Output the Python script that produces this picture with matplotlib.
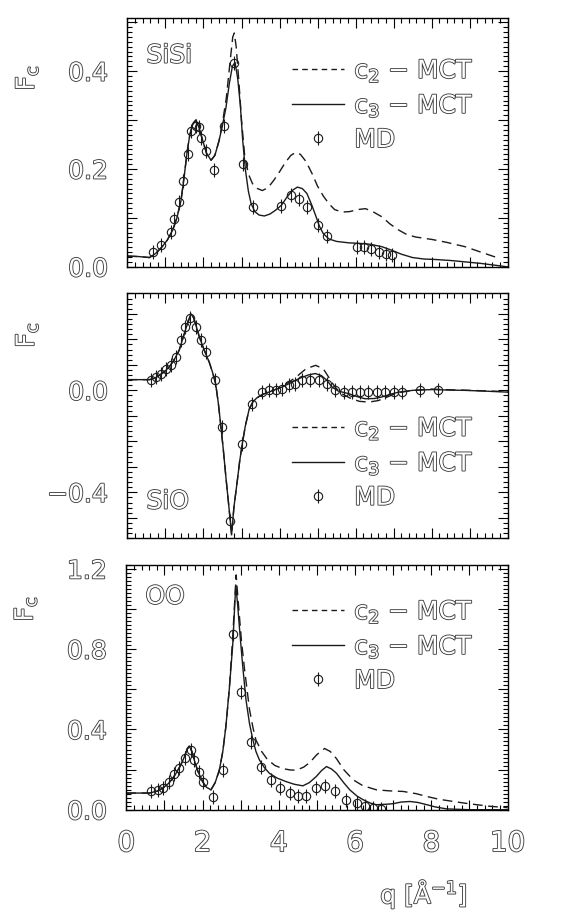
import matplotlib
matplotlib.use('Agg')
import matplotlib.pyplot as plt
import matplotlib.patheffects as pe
from matplotlib.ticker import MultipleLocator, FuncFormatter

plt.rcParams['font.family'] = ['DejaVu Sans']
plt.rcParams['mathtext.fontset'] = 'dejavusans'

# ---- SiSi ----
sisi_q3 = [0.0, 0.3, 0.58, 0.75, 0.9, 1.05, 1.19, 1.3, 1.41, 1.5, 1.57, 1.64, 1.72, 1.8, 1.88,
           1.98, 2.08, 2.2, 2.3, 2.41, 2.5, 2.59, 2.68, 2.76, 2.83, 2.9, 2.97, 3.03, 3.1, 3.18,
           3.25, 3.35, 3.46, 3.6, 3.75, 3.9, 4.05, 4.2, 4.35, 4.47, 4.6, 4.72, 4.85, 4.95, 5.05,
           5.15, 5.3, 5.5, 5.83, 6.1, 6.4, 6.7, 6.95, 7.2, 7.5, 7.8, 8.1, 8.5, 8.9, 9.3, 9.7, 10.0]
sisi_f3 = [0.022, 0.021, 0.019, 0.028, 0.040, 0.055, 0.075, 0.100, 0.136, 0.19, 0.235, 0.27, 0.293, 0.300, 0.285,
           0.258, 0.232, 0.218, 0.228, 0.258, 0.29, 0.325, 0.375, 0.41, 0.418, 0.385, 0.33, 0.26, 0.20, 0.155,
           0.130, 0.113, 0.106, 0.104, 0.108, 0.116, 0.126, 0.143, 0.157, 0.163, 0.160, 0.150, 0.126, 0.105, 0.083,
           0.068, 0.057, 0.052, 0.049, 0.048, 0.046, 0.041, 0.034, 0.026, 0.019, 0.016, 0.015, 0.013, 0.010, 0.007, 0.003, 0.0]
sisi_q2 = [0.0, 0.3, 0.58, 0.75, 0.9, 1.05, 1.19, 1.3, 1.41, 1.5, 1.57, 1.64, 1.72, 1.8, 1.88,
           1.98, 2.08, 2.2, 2.3, 2.41, 2.5, 2.6, 2.7, 2.77, 2.81, 2.86, 2.93, 3.0, 3.08, 3.18,
           3.29, 3.42, 3.55, 3.7, 3.85, 3.99, 4.15, 4.3, 4.43, 4.55, 4.7, 4.86, 5.0, 5.15, 5.3,
           5.45, 5.65, 5.85, 6.05, 6.26, 6.45, 6.7, 6.9, 7.14, 7.35, 7.58, 8.01, 8.4, 8.89, 9.3, 9.68]
sisi_f2 = [0.022, 0.021, 0.019, 0.028, 0.040, 0.055, 0.075, 0.100, 0.136, 0.19, 0.235, 0.27, 0.293, 0.300, 0.285,
           0.258, 0.232, 0.218, 0.228, 0.258, 0.295, 0.345, 0.42, 0.47, 0.478, 0.45, 0.38, 0.30, 0.23, 0.19,
           0.170, 0.160, 0.156, 0.162, 0.177, 0.193, 0.213, 0.228, 0.234, 0.230, 0.215, 0.19, 0.165, 0.145, 0.129,
           0.117, 0.112, 0.113, 0.117, 0.119, 0.113, 0.102, 0.088, 0.075, 0.066, 0.061, 0.056, 0.050, 0.041, 0.030, 0.020]
sisi_qmd = [0.66, 0.88, 1.15, 1.23, 1.36, 1.45, 1.58, 1.67, 1.8, 1.89, 1.93, 2.06, 2.28, 2.55, 2.81,
            3.03, 3.29, 4.03, 4.3, 4.51, 4.73, 5.0, 5.26, 6.05, 6.22, 6.4, 6.61, 6.79, 6.96]
sisi_fmd = [0.031, 0.044, 0.071, 0.098, 0.132, 0.176, 0.23, 0.278, 0.288, 0.285, 0.264, 0.237, 0.197, 0.288, 0.417,
            0.21, 0.122, 0.125, 0.146, 0.139, 0.122, 0.085, 0.064, 0.041, 0.041, 0.037, 0.031, 0.027, 0.024]

# ---- SiO ----
sio_q3 = [0.0, 0.3, 0.58, 0.72, 0.84, 0.97, 1.1, 1.23, 1.36, 1.47, 1.58, 1.67, 1.74, 1.8, 1.88,
          1.97, 2.06, 2.15, 2.24, 2.32, 2.39, 2.45, 2.52, 2.59, 2.67, 2.74, 2.8, 2.89, 2.95, 3.02,
          3.1, 3.2, 3.3, 3.4, 3.55, 3.7, 3.9, 4.07, 4.3, 4.51, 4.75, 4.94, 5.1, 5.25, 5.38,
          5.55, 5.82, 6.05, 6.25, 6.5, 6.69, 6.9, 7.13, 7.5, 8.0, 8.5, 8.87, 9.4, 10.0]
sio_f3 = [0.042, 0.042, 0.042, 0.048, 0.059, 0.073, 0.092, 0.12, 0.157, 0.21, 0.262, 0.300, 0.285, 0.256, 0.215,
          0.177, 0.143, 0.111, 0.07, 0.026, -0.05, -0.131, -0.23, -0.341, -0.459, -0.564, -0.459, -0.354, -0.28, -0.21,
          -0.14, -0.075, -0.045, -0.03, -0.016, -0.008, 0.004, 0.013, 0.030, 0.046, 0.060, 0.066, 0.058, 0.039, 0.013,
          -0.003, -0.013, -0.025, -0.033, -0.032, -0.026, -0.016, -0.007, 0.0, 0.003, 0.001, 0.0, -0.003, -0.007]
sio_q2 = [0.0, 0.3, 0.58, 0.72, 0.84, 0.97, 1.1, 1.23, 1.36, 1.47, 1.58, 1.67, 1.74, 1.8, 1.88,
          1.97, 2.06, 2.15, 2.24, 2.32, 2.39, 2.45, 2.52, 2.59, 2.67, 2.74, 2.8, 2.89, 2.95, 3.02,
          3.1, 3.2, 3.3, 3.4, 3.55, 3.7, 3.9, 4.07, 4.3, 4.5, 4.7, 4.95, 5.15, 5.3, 5.45,
          5.6, 5.85, 6.1, 6.35, 6.6, 6.85, 7.1, 7.5, 8.0, 8.5, 9.0, 10.0]
sio_f2 = [0.042, 0.042, 0.042, 0.048, 0.059, 0.073, 0.092, 0.12, 0.157, 0.21, 0.262, 0.300, 0.285, 0.256, 0.215,
          0.177, 0.143, 0.111, 0.07, 0.026, -0.05, -0.131, -0.23, -0.341, -0.459, -0.57, -0.459, -0.354, -0.28, -0.21,
          -0.14, -0.075, -0.045, -0.03, -0.016, -0.008, 0.004, 0.015, 0.038, 0.06, 0.085, 0.098, 0.085, 0.05, 0.015,
          -0.01, -0.03, -0.043, -0.046, -0.04, -0.025, -0.01, 0.0, 0.005, 0.002, 0.0, -0.005]
sio_qmd = [0.62, 0.75, 0.88, 1.01, 1.14, 1.28, 1.41, 1.52, 1.64, 1.8, 1.93, 2.06, 2.31, 2.5, 2.69,
           3.02, 3.28, 3.55, 3.72, 3.9, 4.07, 4.24, 4.42, 4.59, 4.81, 5.03, 5.25, 5.47, 5.69, 5.9,
           6.12, 6.34, 6.56, 6.78, 7.0, 7.21, 7.69, 8.17]
sio_fmd = [0.042, 0.052, 0.066, 0.085, 0.098, 0.131, 0.197, 0.249, 0.282, 0.249, 0.197, 0.151, 0.039, -0.144, -0.511,
           -0.21, -0.052, -0.007, 0.0, 0.0, 0.007, 0.020, 0.026, 0.039, 0.042, 0.042, 0.026, 0.0, -0.007, -0.007,
           -0.007, -0.007, -0.007, -0.007, -0.007, -0.007, 0.0, 0.0]

# ---- OO ----
oo_q3 = [0.0, 0.3, 0.6, 0.8, 0.95, 1.1, 1.2, 1.3, 1.42, 1.52, 1.6, 1.65, 1.72, 1.78, 1.88,
         2.0, 2.1, 2.22, 2.33, 2.44, 2.53, 2.61, 2.7, 2.79, 2.87, 2.92, 2.98, 3.06, 3.14, 3.23,
         3.32, 3.4, 3.49, 3.62, 3.75, 3.95, 4.19, 4.4, 4.63, 4.8, 4.98, 5.12, 5.25, 5.38, 5.51,
         5.7, 5.86, 6.05, 6.21, 6.4, 6.56, 6.8, 7.0, 7.2, 7.44, 7.65, 7.88, 8.1, 8.4, 9.0, 10.0]
oo_f3 = [0.083, 0.083, 0.083, 0.092, 0.107, 0.13, 0.152, 0.18, 0.22, 0.262, 0.305, 0.318, 0.29, 0.248, 0.19,
         0.14, 0.112, 0.099, 0.135, 0.198, 0.29, 0.413, 0.6, 0.82, 1.12, 1.02, 0.875, 0.7, 0.545, 0.43,
         0.347, 0.29, 0.248, 0.21, 0.182, 0.158, 0.14, 0.127, 0.119, 0.135, 0.165, 0.195, 0.215, 0.203, 0.182,
         0.135, 0.099, 0.068, 0.05, 0.033, 0.025, 0.027, 0.03, 0.038, 0.041, 0.036, 0.025, 0.014, 0.004, 0.0, 0.0]
oo_q2 = [0.0, 0.3, 0.6, 0.8, 0.95, 1.1, 1.2, 1.3, 1.42, 1.52, 1.6, 1.65, 1.72, 1.78, 1.88,
         2.0, 2.1, 2.22, 2.33, 2.44, 2.53, 2.61, 2.7, 2.79, 2.88, 2.95, 3.02, 3.1, 3.23, 3.32,
         3.4, 3.55, 3.7, 3.9, 4.1, 4.3, 4.46, 4.65, 4.81, 5.0, 5.2, 5.35, 5.51, 5.7, 5.95,
         6.2, 6.56, 6.9, 7.26, 7.6, 7.88, 8.2, 8.58, 8.9, 9.19, 9.54, 10.0]
oo_f2 = [0.083, 0.083, 0.083, 0.092, 0.107, 0.13, 0.152, 0.18, 0.22, 0.262, 0.305, 0.318, 0.29, 0.248, 0.19,
         0.14, 0.112, 0.099, 0.135, 0.198, 0.29, 0.413, 0.6, 0.86, 1.17, 1.0, 0.84, 0.7, 0.5, 0.41,
         0.347, 0.29, 0.25, 0.22, 0.205, 0.198, 0.197, 0.212, 0.235, 0.275, 0.305, 0.29, 0.255, 0.2, 0.149,
         0.12, 0.099, 0.094, 0.091, 0.08, 0.066, 0.052, 0.041, 0.032, 0.025, 0.017, 0.01]
oo_qmd = [0.64, 0.82, 0.95, 1.12, 1.25, 1.39, 1.55, 1.69, 1.78, 1.91, 2.0, 2.26, 2.53, 2.79, 3.01,
          3.27, 3.54, 3.8, 4.02, 4.28, 4.5, 4.72, 4.98, 5.2, 5.46, 5.77, 6.04, 6.25, 6.47, 6.69]
oo_fmd = [0.091, 0.099, 0.107, 0.14, 0.18, 0.21, 0.26, 0.297, 0.248, 0.19, 0.14, 0.063, 0.198, 0.875, 0.586,
          0.338, 0.215, 0.149, 0.107, 0.083, 0.069, 0.069, 0.107, 0.116, 0.091, 0.05, 0.033, 0.02, 0.008, 0.003]

lab2 = 'c$_2$ \u2212 MCT'
lab3 = 'c$_3$ \u2212 MCT'
# outlined ("hollow") glyphs like the old scanned figure
hollow = [pe.withStroke(linewidth=1.25, foreground='#3a3a3a')]
fs = 18


def fmt_every(step):
    def f(v, pos):
        k = v / step
        if abs(k - round(k)) > 1e-6:
            return ''
        s = '%.1f' % (round(k) * step + 0.0)
        if s == '-0.0':
            s = '0.0'
        return s.replace('-', '\u2212')
    return f


def draw_panel(ax, q2, f2, q3, f3, qmd, fmd, name, name_y, ylim, ymaj, ymin, ylab, leg_top, lab_y, xlabels):
    ax.plot(q2, f2, color='#1a1a1a', lw=1.0, dashes=(7, 4))
    ax.plot(q3, f3, color='#1a1a1a', lw=1.0)
    h_o, = ax.plot(qmd, fmd, ls='none', marker='o', ms=6, mfc='none', mec='#1a1a1a', mew=0.8)
    h_b, = ax.plot(qmd, fmd, ls='none', marker='|', ms=10, mec='#1a1a1a', mew=0.8)
    h2, = ax.plot([], [], color='#1a1a1a', lw=1.0, dashes=(4, 3))
    h3, = ax.plot([], [], color='#1a1a1a', lw=1.0)

    ax.set_xlim(0, 10)
    ax.set_ylim(*ylim)
    ax.xaxis.set_major_locator(MultipleLocator(1))
    ax.xaxis.set_minor_locator(MultipleLocator(0.2))
    ax.yaxis.set_major_locator(MultipleLocator(ymaj))
    ax.yaxis.set_minor_locator(MultipleLocator(ymin))
    ax.yaxis.set_major_formatter(FuncFormatter(fmt_every(ylab)))
    if xlabels:
        ax.xaxis.set_major_formatter(FuncFormatter(lambda v, p: '%d' % round(v) if round(v) % 2 == 0 else ''))
    else:
        ax.set_xticklabels([])
    ax.tick_params(which='both', direction='in', top=True, right=True, labelsize=fs, pad=14, width=0.8)
    ax.tick_params(axis='x', labelsize=20)
    ax.tick_params(which='major', length=7)
    ax.tick_params(which='minor', length=3.5)
    for sp in ax.spines.values():
        sp.set_linewidth(1.0)

    for lbl in ax.get_yticklabels() + ax.get_xticklabels():
        lbl.set_color('white')
        lbl.set_path_effects(hollow)

    ax.set_ylabel('F$_\\mathregular{c}$', fontsize=fs, color='white', path_effects=hollow)
    ax.yaxis.set_label_coords(-0.23, lab_y)

    ax.text(0.05, name_y, name, transform=ax.transAxes, fontsize=fs, va='center', ha='left',
            color='white', path_effects=hollow)

    leg = ax.legend([h2, h3, (h_o, h_b)], [lab2, lab3, 'MD'], loc='upper right',
                    bbox_to_anchor=(0.91, leg_top), frameon=False, fontsize=fs,
                    handlelength=2.1, handletextpad=0.4, labelspacing=0.35,
                    borderpad=0, borderaxespad=0)
    for t in leg.get_texts():
        t.set_color('white')
        t.set_path_effects(hollow)


fig = plt.figure(figsize=(5.64, 9.17), dpi=100)
ax1 = fig.add_axes([0.226, 0.709, 0.674, 0.271])
ax2 = fig.add_axes([0.226, 0.413, 0.674, 0.267])
ax3 = fig.add_axes([0.224, 0.117, 0.676, 0.267])

draw_panel(ax1, sisi_q2, sisi_f2, sisi_q3, sisi_f3, sisi_qmd, sisi_fmd, 'SiSi', 0.85,
           (0, 0.508), 0.1, 0.01, 0.2, 0.84, 0.76, False)
draw_panel(ax2, sio_q2, sio_f2, sio_q3, sio_f3, sio_qmd, sio_fmd, 'SiO', 0.15,
           (-0.58, 0.38), 0.1, 0.02, 0.4, 0.50, 0.83, False)
draw_panel(ax3, oo_q2, oo_f2, oo_q3, oo_f3, oo_qmd, oo_fmd, 'OO', 0.87,
           (0, 1.22), 0.2, 0.02, 0.4, 0.86, 0.82, True)

ax3.set_xlabel('q [\u00c5$^{-1}$]', fontsize=fs, color='white', path_effects=hollow)
ax3.xaxis.set_label_coords(0.78, -0.28)

fig.savefig('out.png', dpi=100)
